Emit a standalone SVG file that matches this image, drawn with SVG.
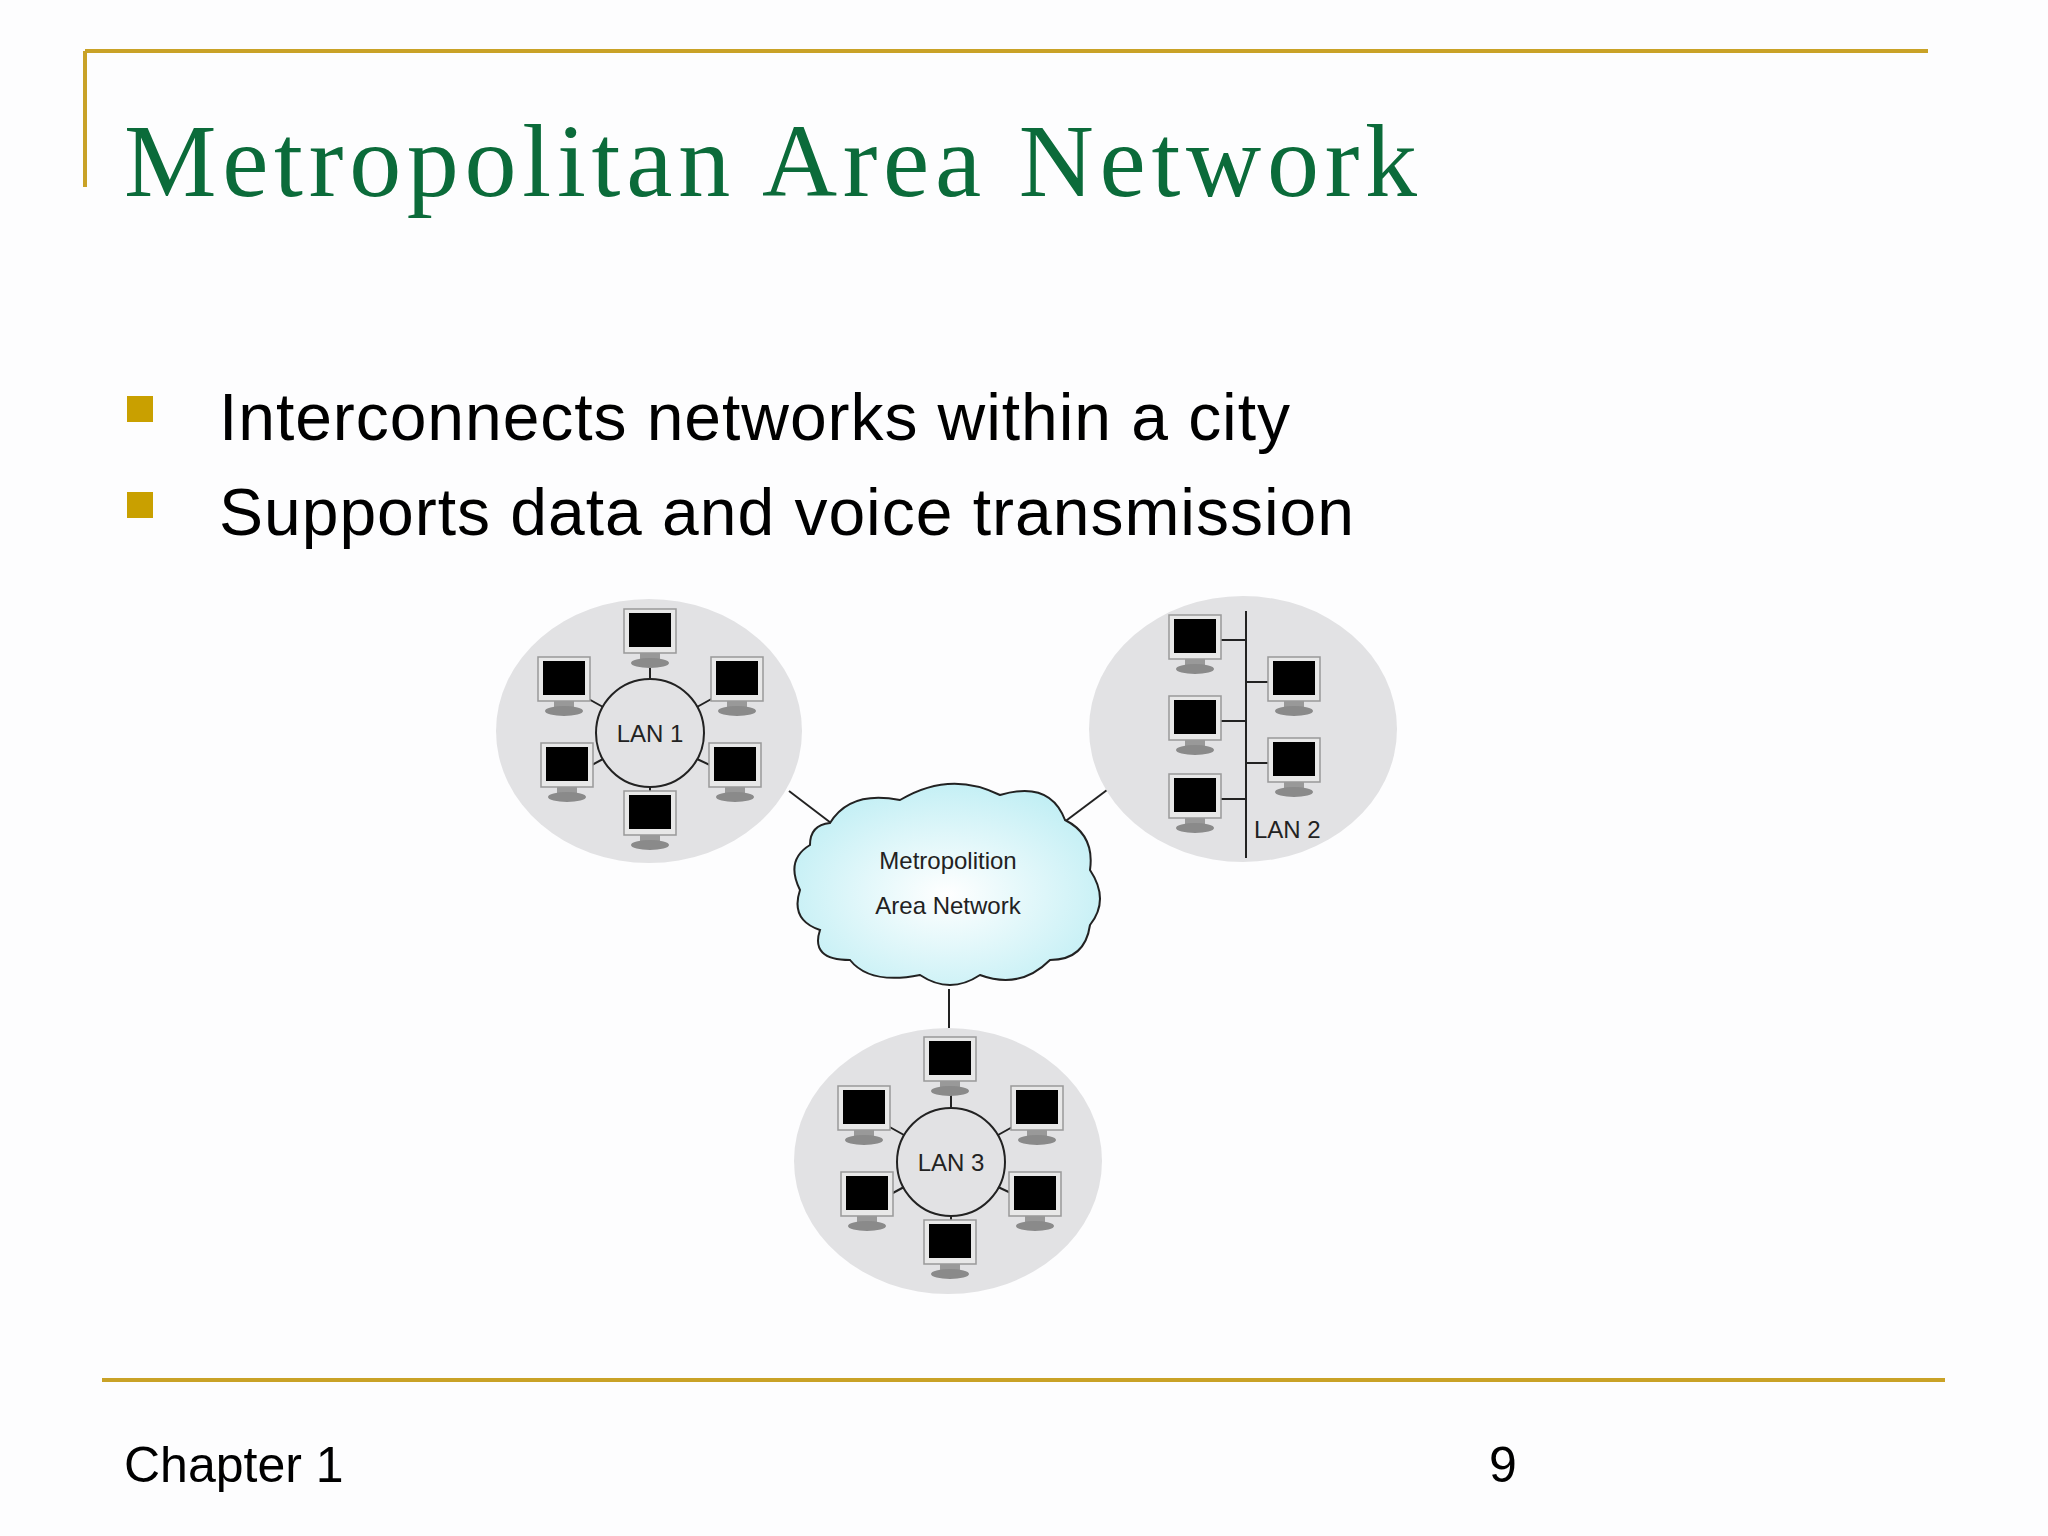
<svg xmlns="http://www.w3.org/2000/svg" width="2048" height="1536" viewBox="0 0 2048 1536">
<style>
.gold{stroke:#c9a227;stroke-width:4;fill:none}
.ln{stroke:#222;stroke-width:2;fill:none}
.lan{fill:#e2e2e4}
.lbl{font-family:"Liberation Sans",Arial,sans-serif;font-size:24px;fill:#222}
.body{font-family:"Liberation Sans",Arial,sans-serif;fill:#000}
</style>
<defs>
<radialGradient id="cg" cx="0.5" cy="0.55" r="0.6"><stop offset="0" stop-color="#ffffff"/><stop offset="1" stop-color="#bfeef4"/></radialGradient>
<g id="mon">
<rect x="-26" y="-25" width="52" height="44" fill="#e8e8e8" stroke="#999" stroke-width="1.5"/>
<rect x="-21" y="-21" width="42" height="34" fill="#000"/>
<rect x="-10" y="19" width="20" height="6" fill="#999"/>
<ellipse cx="0" cy="29" rx="19" ry="5" fill="#8a8a8a"/>
</g>
</defs>
<rect width="2048" height="1536" fill="#fdfdfe"/>
<path class="gold" d="M85,51 H1928 M85,51 V187"/>
<line class="gold" x1="102" y1="1380" x2="1945" y2="1380"/>
<text x="124" y="196" font-family="Liberation Serif,serif" font-size="104" fill="#0b6b3a" textLength="1293">Metropolitan Area Network</text>
<rect x="127" y="396" width="26" height="26" fill="#c9a000"/>
<rect x="127" y="492" width="26" height="26" fill="#c9a000"/>
<text class="body" x="219" y="440" font-size="66" textLength="1071">Interconnects networks within a city</text>
<text class="body" x="219" y="535" font-size="66" textLength="1135">Supports data and voice transmission</text>
<text class="body" x="124" y="1482" font-size="50">Chapter 1</text>
<text class="body" x="1489" y="1482" font-size="50">9</text>
<g id="connectors">
<line class="ln" x1="789" y1="791" x2="831" y2="823"/>
<line class="ln" x1="1107" y1="790" x2="1063" y2="823"/>
<line class="ln" x1="949" y1="989" x2="949" y2="1028"/>
</g>
<g id="lan1">
<ellipse class="lan" cx="649" cy="731" rx="153" ry="132"/>
<path class="ln" d="M650,679 V658 M650,787 V800 M603,707 L585,697 M697,707 L715,697 M603,759 L590,766 M697,759 L712,766"/>
<circle cx="650" cy="733" r="54" fill="none" stroke="#222" stroke-width="2"/>
<text class="lbl" x="650" y="742" text-anchor="middle">LAN 1</text>
<use href="#mon" x="650" y="634"/><use href="#mon" x="564" y="682"/><use href="#mon" x="737" y="682"/>
<use href="#mon" x="567" y="768"/><use href="#mon" x="735" y="768"/><use href="#mon" x="650" y="816"/>
</g>
<g id="lan2">
<ellipse class="lan" cx="1243" cy="729" rx="154" ry="133"/>
<path class="ln" d="M1246,611 V858 M1221,640 H1246 M1221,721 H1246 M1221,799 H1246 M1246,682 H1268 M1246,763 H1268"/>
<use href="#mon" x="1195" y="640"/><use href="#mon" x="1195" y="721"/><use href="#mon" x="1195" y="799"/>
<use href="#mon" x="1294" y="682"/><use href="#mon" x="1294" y="763"/>
<text class="lbl" x="1254" y="838">LAN 2</text>
</g>
<g id="cloud">
<path d="M830,823 Q850,790 900,800 Q950,770 1000,795 Q1050,780 1065,820 Q1095,835 1090,870 Q1110,900 1090,925 Q1085,960 1050,960 Q1020,990 980,975 Q950,995 920,975 Q870,985 850,960 Q810,960 820,930 Q790,920 800,890 Q785,860 810,845 Q810,825 830,823 Z" fill="url(#cg)" stroke="#222" stroke-width="2"/>
<text class="lbl" x="948" y="869" text-anchor="middle" font-size="31">Metropolition</text>
<text class="lbl" x="948" y="914" text-anchor="middle" font-size="31">Area Network</text>
</g>
<g id="lan3">
<ellipse class="lan" cx="948" cy="1161" rx="154" ry="133"/>
<path class="ln" d="M951,1108 V1088 M951,1216 V1230 M904,1135 L886,1125 M998,1135 L1016,1125 M904,1187 L891,1194 M998,1187 L1013,1194"/>
<circle cx="951" cy="1162" r="54" fill="none" stroke="#222" stroke-width="2"/>
<text class="lbl" x="951" y="1171" text-anchor="middle">LAN 3</text>
<use href="#mon" x="950" y="1062"/><use href="#mon" x="864" y="1111"/><use href="#mon" x="1037" y="1111"/>
<use href="#mon" x="867" y="1197"/><use href="#mon" x="1035" y="1197"/><use href="#mon" x="950" y="1245"/>
</g>
</svg>
